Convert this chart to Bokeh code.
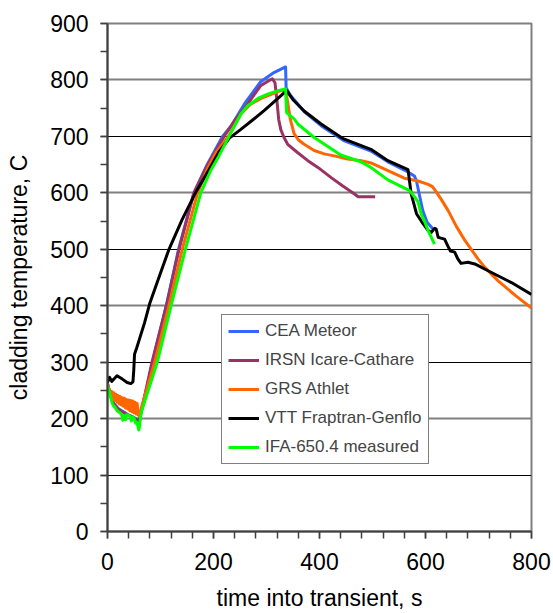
from bokeh.plotting import figure
from bokeh.models import Range1d, SingleIntervalTicker, FixedTicker, Grid, Legend, LegendItem
from bokeh.embed import file_html
from bokeh.resources import INLINE

# ---------------- data ----------------
cea_t = [0, 5, 10, 20, 30, 40, 50, 57, 60, 62, 85, 111, 134, 163, 188, 217, 233, 260, 289, 314, 336,
         337, 345, 371, 403, 447, 497, 529, 567, 579, 583, 589, 595, 603, 614]
cea_y = [262, 244, 229, 218, 212, 206, 202, 198, 195, 205, 300, 400, 500, 600, 650, 700, 718, 760, 797, 813, 823,
         786, 773, 744, 719, 692, 674, 655, 637, 630, 621, 594, 568, 548, 536]

irsn_t = [0, 5, 10, 20, 30, 40, 50, 57, 60, 62, 84, 111, 135, 163, 188, 220, 240, 264, 289, 305, 311,
          316, 319, 323, 327, 333, 340, 359, 378, 397, 422, 444, 466, 473, 505]
irsn_y = [262, 243, 228, 217, 211, 206, 201, 197, 197, 205, 300, 400, 500, 600, 648, 700, 728, 757, 790, 799, 802,
          795, 770, 730, 712, 698, 686, 671, 657, 645, 627, 612, 598, 593, 593]

grs_t = [0, 2, 4, 6, 8, 10, 12, 14, 16, 18, 20, 22, 24, 26, 28, 30, 32, 34, 36, 38, 40, 42, 44, 46, 48,
         50, 52, 54, 56, 58, 60, 61, 64, 89, 116, 141, 170, 190, 205, 228, 252, 270, 289, 310, 327, 336,
         340, 345, 352, 360, 371, 390, 409, 430, 453, 479, 497, 523, 560, 586, 605, 613, 617, 630, 643,
         658, 674, 687, 699, 712, 737, 770, 800]
grs_y = [262, 248, 252, 238, 248, 234, 246, 232, 243, 229, 241, 226, 239, 224, 237, 222, 236, 219, 234, 217,
         233, 214, 232, 212, 231, 210, 229, 208, 227, 206, 212, 205, 220, 300, 400, 500, 600, 645, 672, 700,
         740, 757, 767, 775, 781, 782, 760, 730, 705, 694, 686, 675, 669, 665, 660, 657, 653, 642, 626, 621,
         615, 611, 606, 588, 568, 541, 516, 499, 483, 468, 444, 418, 396]

vtt_t = [0, 4, 8, 13, 18, 28, 37, 44, 48, 49.5, 51, 55, 60, 70, 80, 97, 116, 141, 166, 191, 210, 230, 251,
         275, 296, 320, 338, 350, 371, 403, 441, 447, 497, 529, 567, 569, 573, 583, 592, 605, 611, 617, 620,
         624, 636, 642, 647, 655, 661, 667, 680, 693, 718, 762, 800]
vtt_y = [264, 273, 266, 271, 276, 270, 264, 262, 265, 285, 314, 325, 340, 370, 405, 450, 500, 553, 600, 640,
         672, 697, 712, 730, 746, 766, 781, 765, 745, 722, 698, 695, 677, 657, 641, 627, 598, 563, 550, 533,
         530, 537, 536, 521, 518, 506, 497, 495, 483, 475, 477, 474, 462, 441, 420]

ifa_t = [0, 3, 6, 9, 12, 15, 18, 21, 24, 27, 29, 30.5, 33, 34, 36, 40, 43, 45, 47, 50, 53, 55, 57, 59, 60,
         62, 64, 94, 120, 147, 176, 195, 210, 232, 252, 264, 285, 302, 325, 336, 338, 352, 359, 390, 403,
         440, 478, 497, 529, 570, 580, 586, 592, 598, 605, 611, 617]
ifa_y = [258, 248, 238, 227, 222, 219, 214, 212, 210, 206, 197, 205, 203, 198, 207, 206, 204, 196, 203, 201,
         192, 194, 188, 180, 184, 200, 212, 300, 400, 500, 600, 640, 665, 705, 740, 754, 768, 775, 782, 784,
         742, 731, 722, 698, 690, 667, 655, 645, 623, 604, 592, 584, 562, 550, 533, 521, 509]

series_names = ["CEA Meteor", "IRSN Icare-Cathare", "GRS Athlet", "VTT Fraptran-Genflo", "IFA-650.4 measured"]
series_colors = ["#3366ff", "#993366", "#ff6600", "#000000", "#00ff00"]
x_title = "time into transient, s"
y_title = "cladding temperature, C"
x_ticks_interval = 200
y_ticks_interval = 100

FONT = "Liberation Sans"

p = figure(width=553, height=613, output_backend="svg", toolbar_location=None,
           x_range=Range1d(0, 800), y_range=Range1d(0, 900),
           min_border_left=107, min_border_right=22, min_border_top=23, min_border_bottom=82,
           background_fill_color="white", border_fill_color="white")

p.outline_line_color = "#808080"
p.outline_line_width = 2

# axes
p.xaxis.ticker = SingleIntervalTicker(interval=x_ticks_interval, num_minor_ticks=5)
p.yaxis.ticker = SingleIntervalTicker(interval=y_ticks_interval, num_minor_ticks=2)
for ax in (p.xaxis[0], p.yaxis[0]):
    ax.axis_line_color = "#404040"
    ax.axis_line_width = 2
    ax.major_tick_line_color = "#404040"
    ax.minor_tick_line_color = "#404040"
    ax.major_tick_line_width = 1.5
    ax.minor_tick_line_width = 1.5
    ax.major_tick_in = 0
    ax.minor_tick_in = 0
    ax.major_tick_out = 7
    ax.minor_tick_out = 7
    ax.major_label_text_font = FONT
    ax.major_label_text_font_size = "23px"
    ax.major_label_text_color = "black"
    ax.axis_label_text_font = FONT
    ax.axis_label_text_font_size = "23px"
    ax.axis_label_text_font_style = "normal"
    ax.axis_label_text_color = "black"

p.xaxis.axis_label = x_title
p.yaxis.axis_label = y_title
p.xaxis.major_label_standoff = 14
p.xaxis.axis_label_standoff = 12
p.yaxis.major_label_standoff = 12
p.yaxis.axis_label_standoff = 15

# grids: thin black at odd hundreds, gray at even hundreds
p.xgrid.visible = False
p.ygrid.ticker = FixedTicker(ticks=[100, 300, 500, 700])
p.ygrid.grid_line_color = "black"
p.ygrid.grid_line_width = 1
g2 = Grid(dimension=1, ticker=FixedTicker(ticks=[200, 400, 600, 800]),
          grid_line_color="#808080", grid_line_width=2)
p.add_layout(g2)

data = [(cea_t, cea_y), (irsn_t, irsn_y), (grs_t, grs_y), (vtt_t, vtt_y), (ifa_t, ifa_y)]
items = []
for (t, y), name, col in zip(data, series_names, series_colors):
    r = p.line(t, y, line_color=col, line_width=3, line_join="round")
    items.append(LegendItem(label=name, renderers=[r]))

legend = Legend(items=items, location=(114, 67))
legend.label_text_font = FONT
legend.label_text_font_size = "17px"
legend.glyph_width = 31
legend.glyph_height = 20
legend.label_height = 20
legend.label_standoff = 6
legend.spacing = 9
legend.padding = 6
legend.margin = 0
legend.border_line_color = "black"
legend.border_line_width = 1
legend.background_fill_color = "white"
legend.background_fill_alpha = 1
p.add_layout(legend, "center")

open("out.html", "w").write(file_html(p, INLINE))
